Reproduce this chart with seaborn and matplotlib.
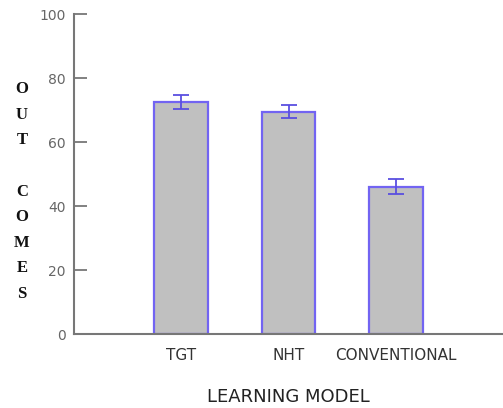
import numpy as np
import pandas as pd
import matplotlib
matplotlib.use("Agg")
import matplotlib.pyplot as plt
import seaborn as sns

# -----------------------------------------------------------------------------
# DATA
# -----------------------------------------------------------------------------
models = ["TGT", "NHT", "CONVENTIONAL"]
outcomes = [72.5, 69.5, 46.0]
errors = [2.1, 2.1, 2.3]
y_ticks = [0, 20, 40, 60, 80, 100]

df = pd.DataFrame({"model": models, "outcome": outcomes})

# -----------------------------------------------------------------------------
# PLOT
# -----------------------------------------------------------------------------
sns.set_style("white")
plt.rcParams["font.family"] = ["DejaVu Sans"]

fig = plt.figure(figsize=(5.03, 4.08), dpi=100)
ax = fig.add_axes([74 / 503, 74 / 408, 1 - 74 / 503, 320 / 408])

edge = "#7264f2"
sns.barplot(data=df, x="model", y="outcome", order=models, width=0.5,
            color="#c0c0c0", edgecolor=edge, linewidth=1.6,
            errorbar=None, saturation=1, ax=ax)
for bar in ax.patches:
    bar.set_facecolor("#c0c0c0")

ax.errorbar(np.arange(len(models)), outcomes, yerr=errors, fmt="none",
            ecolor="#5a4fe0", elinewidth=1.3, capsize=5.5, capthick=1.3)

ax.set_xlim(-1, 3)
ax.set_ylim(0, 100)
ax.set_yticks(y_ticks)
ax.set_yticklabels([str(t) for t in y_ticks], fontsize=10, color="#666666")
ax.tick_params(axis="y", direction="in", length=9.5, width=1.3,
               color="#777777", pad=6, left=True)
ax.tick_params(axis="x", length=0, pad=10, labelsize=11, labelcolor="#333333")

for side in ["top", "right"]:
    ax.spines[side].set_visible(False)
for side in ["left", "bottom"]:
    ax.spines[side].set_color("#777777")
    ax.spines[side].set_linewidth(1.5)

ax.set_ylabel("")
ax.set_xlabel("LEARNING MODEL", fontsize=13, color="#222222", labelpad=18)

fig.text(22 / 503, 1 - 191.5 / 408, "O\nU\nT\n\nC\nO\nM\nE\nS",
         ha="center", va="center", multialignment="center",
         family="Liberation Serif", fontweight="bold", fontsize=12,
         color="#111111", linespacing=1.8)

plt.savefig("out.png", dpi=100)
plt.close()
